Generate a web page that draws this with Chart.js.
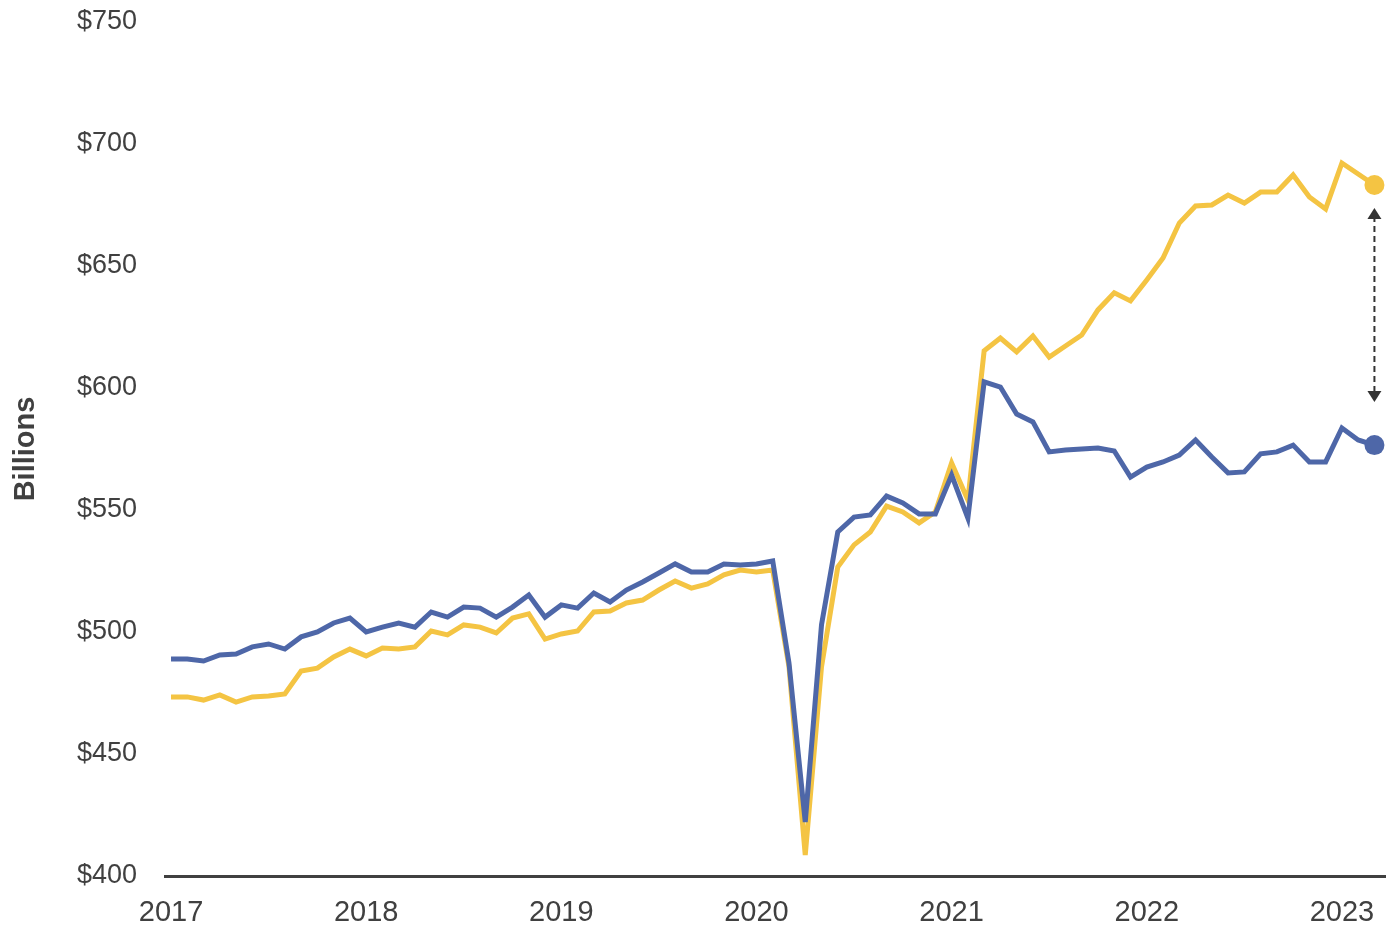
<!DOCTYPE html>
<html lang="en">
<head>
    <meta charset="UTF-8">
    <title>Spending, Billions</title>
    <script src="https://cdn.jsdelivr.net/npm/chart.js"></script>
    <style>
        html, body {
            margin: 0;
            padding: 0;
            background: #ffffff;
        }
        #wrap {
            width: 1395px;
            height: 925px;
            position: relative;
        }
    </style>
</head>
<body>
    <div id="wrap">
        <canvas id="chart"></canvas>
    </div>

    <script>
        // monthly values, Jan 2017 .. Mar 2023
        const blueValues = [
            488.9, 488.9, 488.1, 490.6, 491.0, 493.9, 495.1, 493.0, 498.0, 500.0, 503.7, 505.7,
            500.0, 502.0, 503.7, 502.0, 508.2, 506.1, 510.2, 509.8, 506.1, 510.2, 515.2, 506.1,
            511.1, 509.8, 516.0, 512.3, 517.2, 520.5, 524.2, 527.9, 524.6, 524.6, 527.9, 527.5,
            527.9, 529.1, 487.3, 422.1, 502.9, 541.0, 547.1, 548.0, 555.7, 552.9, 548.4, 548.4,
            564.3, 546.7, 602.5, 600.4, 589.3, 586.1, 573.8, 574.6, 575.0, 575.4, 574.2, 563.5,
            567.6, 569.7, 572.5, 578.7, 571.7, 565.2, 565.6, 573.0, 573.8, 576.6, 569.7, 569.7,
            583.6, 578.7, 576.6
        ];
        const yellowValues = [
            473.4, 473.4, 472.1, 474.2, 471.3, 473.4, 473.8, 474.6, 484.0, 485.2, 489.8, 493.0,
            490.2, 493.4, 493.0, 493.9, 500.4, 498.8, 502.9, 502.0, 499.6, 505.7, 507.4, 497.1,
            499.2, 500.4, 508.2, 508.6, 511.9, 513.1, 517.2, 520.9, 518.0, 519.7, 523.4, 525.4,
            524.6, 525.4, 485.7, 408.6, 485.7, 526.6, 535.7, 541.0, 551.6, 549.2, 544.7, 549.2,
            569.3, 554.1, 615.2, 620.5, 614.8, 621.3, 612.7, 617.2, 621.7, 632.0, 639.0, 635.7,
            644.3, 653.3, 667.6, 674.6, 675.0, 679.1, 675.8, 680.3, 680.3, 687.3, 678.3, 673.4,
            692.2, 687.7, 683.2
        ];
        const yearLabels = ['2017', '2018', '2019', '2020', '2021', '2022', '2023'];
        const yTicks = [400, 450, 500, 550, 600, 650, 700, 750];

        const blueColor = '#4E67A8';
        const yellowColor = '#F4C443';
        const textColor = '#404040';

        function toPoints(values) {
            return values.map((v, i) => ({ x: i, y: v }));
        }
        const lastIdx = blueValues.length - 1;
        const endDot = (ctx) => ctx.dataIndex === lastIdx ? 10 : 0;

        // dashed double arrow between the two end points
        const gapArrow = {
            id: 'gapArrow',
            afterDatasetsDraw(chart) {
                const { ctx, scales } = chart;
                const x = scales.x.getPixelForValue(lastIdx);
                const top = scales.y.getPixelForValue(yellowValues[lastIdx]) + 23;
                const bottom = scales.y.getPixelForValue(blueValues[lastIdx]) - 43;
                ctx.save();
                ctx.strokeStyle = '#333333';
                ctx.fillStyle = '#333333';
                ctx.lineWidth = 2;
                ctx.setLineDash([6, 4]);
                ctx.beginPath();
                ctx.moveTo(x, top + 8);
                ctx.lineTo(x, bottom - 8);
                ctx.stroke();
                ctx.setLineDash([]);
                ctx.beginPath();
                ctx.moveTo(x, top);
                ctx.lineTo(x - 7, top + 11);
                ctx.lineTo(x + 7, top + 11);
                ctx.closePath();
                ctx.fill();
                ctx.beginPath();
                ctx.moveTo(x, bottom);
                ctx.lineTo(x - 7, bottom - 11);
                ctx.lineTo(x + 7, bottom - 11);
                ctx.closePath();
                ctx.fill();
                ctx.restore();
            }
        };

        new Chart(document.getElementById('chart'), {
            type: 'line',
            data: {
                datasets: [
                    {
                        label: 'Blue',
                        data: toPoints(blueValues),
                        borderColor: blueColor,
                        backgroundColor: blueColor,
                        borderWidth: 5,
                        pointRadius: endDot,
                        pointHoverRadius: endDot,
                        pointBorderWidth: 0,
                        tension: 0,
                        clip: false
                    },
                    {
                        label: 'Yellow',
                        data: toPoints(yellowValues),
                        borderColor: yellowColor,
                        backgroundColor: yellowColor,
                        borderWidth: 5,
                        pointRadius: endDot,
                        pointHoverRadius: endDot,
                        pointBorderWidth: 0,
                        tension: 0,
                        clip: false
                    }
                ]
            },
            options: {
                responsive: true,
                maintainAspectRatio: false,
                animation: false,
                layout: { padding: { top: 22, right: 4, left: 0, bottom: 0 } },
                plugins: {
                    legend: { display: false },
                    tooltip: { enabled: false }
                },
                scales: {
                    x: {
                        type: 'linear',
                        min: -0.37,
                        max: 74.65,
                        grid: { display: false },
                        border: { display: true, color: '#404040', width: 3 },
                        afterBuildTicks: (axis) => {
                            axis.ticks = yearLabels.map((_, i) => ({ value: i * 12 }));
                        },
                        afterFit: (axis) => { axis.height = 49; },
                        ticks: {
                            autoSkip: false,
                            maxRotation: 0,
                            padding: 12,
                            color: textColor,
                            font: { family: "'Liberation Sans', Arial, sans-serif", size: 29 },
                            callback: (value) => yearLabels[Math.round(value / 12)]
                        }
                    },
                    y: {
                        min: 400,
                        max: 750,
                        grid: { display: false },
                        border: { display: false },
                        afterBuildTicks: (axis) => {
                            axis.ticks = yTicks.map(v => ({ value: v }));
                        },
                        afterFit: (axis) => {
                            axis.width = 165;
                            axis.paddingTop = 0;
                            axis.paddingBottom = 0;
                        },
                        title: {
                            display: true,
                            text: 'Billions',
                            color: textColor,
                            padding: { top: 9, bottom: 4 },
                            font: { family: "'Liberation Sans', Arial, sans-serif", size: 29, weight: 'bold' }
                        },
                        ticks: {
                            padding: 20,
                            color: textColor,
                            font: { family: "'Liberation Sans', Arial, sans-serif", size: 27 },
                            callback: (value) => '$' + value
                        }
                    }
                }
            },
            plugins: [gapArrow]
        });
    </script>
</body>
</html>
